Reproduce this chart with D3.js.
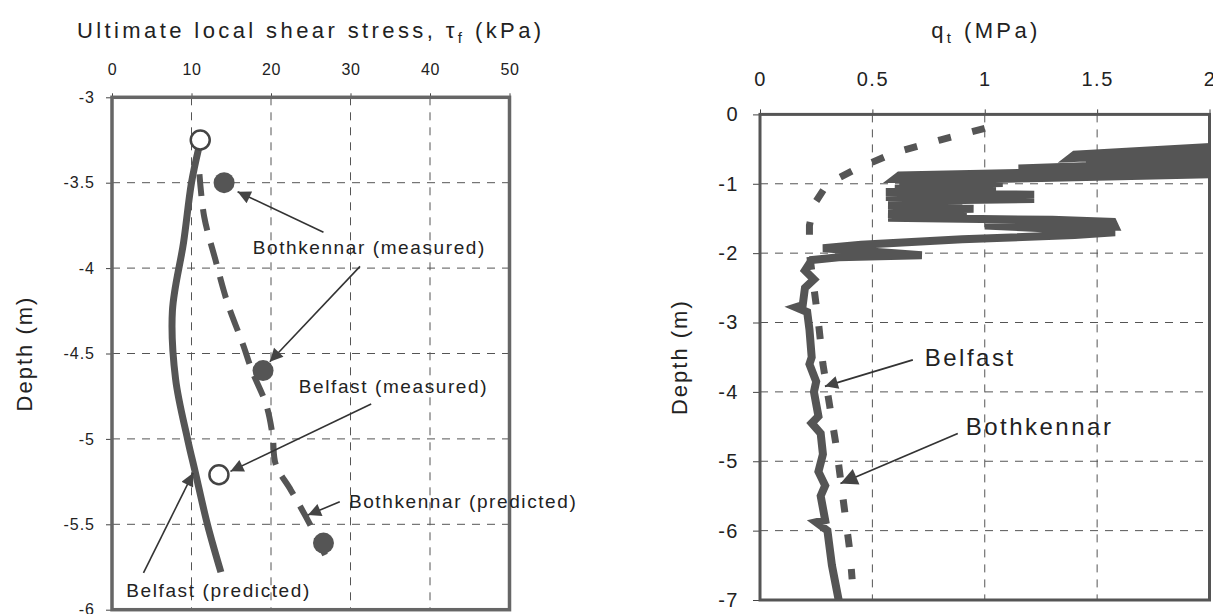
<!DOCTYPE html>
<html>
<head>
<meta charset='utf-8' />
<title>Shear stress and cone resistance</title>
<style>
  body{ margin:0; background:#fff; }
  text{ font-family:'Liberation Sans', Arial, Helvetica, sans-serif; fill:#222; }
  .grid line{ stroke:#555; stroke-width:1; stroke-dasharray:8,7; }
  .axis path{ display:none; }
  .axis line{ stroke:#444; }
</style>
</head>
<body>
<script src="https://d3js.org/d3.v7.min.js"></script>
<script>

// ---- left panel: ultimate local shear stress (kPa) vs depth (m)
let leftXTicks = [0,10,20,30,40,50],
  leftYTicks = [-3,-3.5,-4,-4.5,-5,-5.5,-6]

let belfastPredicted = [[10.9,-3.30],[10.0,-3.5],[9.0,-3.85],[7.6,-4.25],[8.0,-4.65],[9.5,-5.0],[10.5,-5.2],[12.0,-5.5],[13.7,-5.78]]
let bothkennarPredicted = [[11.0,-3.45],[11.6,-3.70],[13.0,-3.95],[14.5,-4.2],[16.5,-4.45],[17.6,-4.6],[19.4,-4.8],[20.2,-4.98],[20.6,-5.15],[22.5,-5.3],[24.9,-5.5],[26.8,-5.68]]
let belfastMeasured = [[11.1,-3.25],[13.45,-5.21]]
let bothkennarMeasured = [[14.1,-3.5],[19.0,-4.6],[26.6,-5.61]]

let leftNotes = [
  {label:'Bothkennar (measured)', at:[17.7,-3.88], arrows:[[26.6,-3.79,15.8,-3.553],[31.2,-3.99,19.85,-4.548]]},
  {label:'Belfast (measured)', at:[23.5,-4.695], arrows:[[32.6,-4.796,14.9,-5.19]]},
  {label:'Bothkennar (predicted)', at:[29.8,-5.368], arrows:[[28.65,-5.368,24.65,-5.446]]},
  {label:'Belfast (predicted)', at:[1.8,-5.885], arrows:[[3.96,-5.785,10.2,-5.2]]}
]

// ---- right panel: cone resistance qt (MPa) vs depth (m)
let rightXTicks = [0,0.5,1,1.5,2],
  rightYTicks = [0,-1,-2,-3,-4,-5,-6,-7]

let belfastCpt = [[2.05,-0.46],[1.40,-0.58],[1.38,-0.63],[2.05,-0.53],[2.05,-0.60],[1.45,-0.66],[2.05,-0.64],[2.05,-0.74],[1.5,-0.74],[1.15,-0.78],[2.05,-0.78],[2.05,-0.84],[1.2,-0.84],[0.62,-0.88],[0.60,-0.93],[1.3,-0.90],[2.05,-0.86],[1.2,-0.92],[0.62,-0.96],[1.08,-0.99],[0.62,-1.02],[1.05,-1.04],[0.60,-1.07],[0.85,-1.10],[0.56,-1.12],[1.22,-1.16],[0.56,-1.19],[1.22,-1.22],[0.58,-1.25],[0.90,-1.28],[0.57,-1.31],[0.95,-1.36],[0.57,-1.39],[0.92,-1.41],[0.57,-1.44],[0.75,-1.47],[0.57,-1.49],[1.30,-1.52],[1.57,-1.55],[1.58,-1.62],[1.0,-1.60],[1.38,-1.66],[1.58,-1.70],[1.4,-1.74],[0.9,-1.80],[0.45,-1.88],[0.28,-1.93],[0.6,-2.0],[0.72,-2.03],[0.35,-2.06],[0.23,-2.1],[0.20,-2.25],[0.24,-2.38],[0.20,-2.5],[0.19,-2.75],[0.16,-2.78],[0.21,-2.85],[0.22,-3.1],[0.23,-3.5],[0.22,-3.6],[0.25,-3.85],[0.24,-4.0],[0.26,-4.35],[0.23,-4.45],[0.27,-4.6],[0.28,-4.9],[0.26,-5.15],[0.29,-5.35],[0.27,-5.5],[0.29,-5.85],[0.25,-5.88],[0.30,-6.0],[0.32,-6.5],[0.35,-7.0]]
let bothkennarCpt = [[1.0,-0.2],[0.8,-0.37],[0.6,-0.55],[0.42,-0.8],[0.3,-1.0],[0.24,-1.3],[0.22,-1.6],[0.22,-2.0],[0.24,-2.5],[0.26,-3.0],[0.28,-3.6],[0.31,-4.2],[0.34,-4.8],[0.36,-5.3],[0.38,-5.8],[0.40,-6.3],[0.41,-6.7]]

let rightNotes = [
  {label:'Belfast', at:[0.733,-3.51], arrows:[[0.68,-3.54,0.289,-3.92]]},
  {label:'Bothkennar', at:[0.915,-4.50], arrows:[[0.88,-4.60,0.358,-5.32]]}
]

let svg = d3.select('body').append('svg').attr('width',1213).attr('height',614)

let defs = svg.append('defs')
defs.append('marker').attr('id','head').attr('viewBox','0 0 10 10').attr('refX',10).attr('refY',5)
  .attr('markerWidth',19).attr('markerHeight',13).attr('markerUnits','userSpaceOnUse').attr('orient','auto')
  .append('path').attr('d','M0,0L10,5L0,10z').style('fill','#444')
defs.append('marker').attr('id','headBig').attr('viewBox','0 0 10 10').attr('refX',10).attr('refY',5)
  .attr('markerWidth',24).attr('markerHeight',17).attr('markerUnits','userSpaceOnUse').attr('orient','auto')
  .append('path').attr('d','M0,0L10,5L0,10z').style('fill','#444')

// ================= left panel
let xL = d3.scaleLinear().domain([0,50]).range([112,509.5]),
  yL = d3.scaleLinear().domain([-3,-6]).range([97.3,609.7])

let gl = svg.append('g')

gl.append('g').attr('class','grid').selectAll('line').data(leftXTicks.slice(1,-1)).enter().append('line')
  .attr('x1',d=>xL(d)).attr('x2',d=>xL(d)).attr('y1',yL(-3)).attr('y2',yL(-6))
gl.append('g').attr('class','grid').selectAll('line').data(leftYTicks.slice(1,-1)).enter().append('line')
  .attr('x1',xL(0)).attr('x2',xL(50)).attr('y1',d=>yL(d)).attr('y2',d=>yL(d))

gl.append('g').attr('class','axis').attr('transform','translate(0,'+yL(-3)+')')
  .call(d3.axisTop(xL).tickValues(leftXTicks).tickSize(4).tickPadding(18).tickFormat(d=>String(d)))
  .selectAll('text').style('font-size','16px').style('letter-spacing','0.5px')
gl.append('g').attr('class','axis').attr('transform','translate('+xL(0)+',0)')
  .call(d3.axisLeft(yL).tickValues(leftYTicks).tickSize(6).tickPadding(11).tickFormat(d=>String(d)))
  .selectAll('text').style('font-size','16px').style('letter-spacing','1px')

let lineL = d3.line().x(d=>xL(d[0])).y(d=>yL(d[1])).curve(d3.curveCatmullRom)

gl.append('path').attr('d',lineL(belfastPredicted))
  .style('fill','none').style('stroke','#555').style('stroke-width',7)
gl.append('path').attr('d',lineL(bothkennarPredicted))
  .style('fill','none').style('stroke','#555').style('stroke-width',6).style('stroke-dasharray','22,13')

gl.selectAll('.bm').data(bothkennarMeasured).enter().append('circle')
  .attr('cx',d=>xL(d[0])).attr('cy',d=>yL(d[1])).attr('r',10.5).style('fill','#555')
gl.selectAll('.fm').data(belfastMeasured).enter().append('circle')
  .attr('cx',d=>xL(d[0])).attr('cy',d=>yL(d[1])).attr('r',9.5)
  .style('fill','#fff').style('stroke','#444').style('stroke-width',2.5)

gl.append('rect').attr('x',xL(0)).attr('y',yL(-3)).attr('width',xL(50)-xL(0)).attr('height',yL(-6)-yL(-3))
  .style('fill','none').style('stroke','#666').style('stroke-width',3.5)

leftNotes.forEach(n => {
  n.arrows.forEach(a => {
    gl.append('line').attr('x1',xL(a[0])).attr('y1',yL(a[1])).attr('x2',xL(a[2])).attr('y2',yL(a[3]))
      .style('stroke','#333').style('stroke-width',1.6).attr('marker-end','url(#head)')
  })
  gl.append('text').attr('x',xL(n.at[0])).attr('y',yL(n.at[1])).attr('dy','0.35em')
    .style('font-size','19px').style('letter-spacing','1.6px').text(n.label)
})

let tl = gl.append('text').attr('x',(xL(0)+xL(50))/2).attr('y',38).attr('text-anchor','middle')
  .style('font-size','22px').style('letter-spacing','3.4px')
tl.append('tspan').text('Ultimate local shear stress, \u03c4')
tl.append('tspan').attr('dy',5).style('font-size','15px').text('f')
tl.append('tspan').attr('dy',-5).text(' (kPa)')

gl.append('text').attr('transform','translate(24,'+((yL(-3)+yL(-6))/2)+') rotate(-90)')
  .attr('text-anchor','middle').attr('dy','0.35em')
  .style('font-size','22px').style('letter-spacing','2px').text('Depth (m)')

// ================= right panel
let xR = d3.scaleLinear().domain([0,2]).range([760,1209.5]),
  yR = d3.scaleLinear().domain([0,-7]).range([114.4,600])

let gr = svg.append('g')

defs.append('clipPath').attr('id','clipR').append('rect')
  .attr('x',xR(0)).attr('y',yR(0)).attr('width',xR(2)-xR(0)).attr('height',yR(-7)-yR(0))

gr.append('g').attr('class','grid').selectAll('line').data(rightXTicks.slice(1,-1)).enter().append('line')
  .attr('x1',d=>xR(d)).attr('x2',d=>xR(d)).attr('y1',yR(0)).attr('y2',yR(-7))
gr.append('g').attr('class','grid').selectAll('line').data(rightYTicks.slice(1,-1)).enter().append('line')
  .attr('x1',xR(0)).attr('x2',xR(2)).attr('y1',d=>yR(d)).attr('y2',d=>yR(d))

gr.append('g').attr('class','axis').attr('transform','translate(0,'+yR(0)+')')
  .call(d3.axisTop(xR).tickValues(rightXTicks).tickSize(5).tickPadding(23).tickFormat(d=>String(d)))
  .selectAll('text').style('font-size','20px').style('letter-spacing','1.5px')
gr.append('g').attr('class','axis').attr('transform','translate('+xR(0)+',0)')
  .call(d3.axisLeft(yR).tickValues(rightYTicks).tickSize(7).tickPadding(14).tickFormat(d=>String(d)))
  .selectAll('text').style('font-size','20px').style('letter-spacing','1.5px')

let lineR = d3.line().x(d=>xR(d[0])).y(d=>yR(d[1]))

gr.append('path').attr('d',lineR(bothkennarCpt)).attr('clip-path','url(#clipR)')
  .style('fill','none').style('stroke','#555').style('stroke-width',7).style('stroke-dasharray','13,22')
gr.append('path').attr('d',lineR(belfastCpt)).attr('clip-path','url(#clipR)')
  .style('fill','none').style('stroke','#555').style('stroke-width',8).style('stroke-linejoin','miter')

gr.append('rect').attr('x',xR(0)).attr('y',yR(0)).attr('width',xR(2)-xR(0)).attr('height',yR(-7)-yR(0))
  .style('fill','none').style('stroke','#555').style('stroke-width',3)

rightNotes.forEach((n,i) => {
  n.arrows.forEach(a => {
    gr.append('line').attr('x1',xR(a[0])).attr('y1',yR(a[1])).attr('x2',xR(a[2])).attr('y2',yR(a[3]))
      .style('stroke','#333').style('stroke-width',1.8).attr('marker-end',i==1?'url(#headBig)':'url(#head)')
  })
  gr.append('text').attr('x',xR(n.at[0])).attr('y',yR(n.at[1])).attr('dy','0.35em')
    .style('font-size','24px').style('letter-spacing','2.5px').text(n.label)
})

let tr = gr.append('text').attr('x',986).attr('y',38).attr('text-anchor','middle')
  .style('font-size','22px').style('letter-spacing','3.4px')
tr.append('tspan').text('q')
tr.append('tspan').attr('dy',5).style('font-size','15px').text('t')
tr.append('tspan').attr('dy',-5).text(' (MPa)')

gr.append('text').attr('transform','translate(679,'+((yR(0)+yR(-7))/2)+') rotate(-90)')
  .attr('text-anchor','middle').attr('dy','0.35em')
  .style('font-size','22px').style('letter-spacing','2px').text('Depth (m)')

</script>
</body>
</html>
